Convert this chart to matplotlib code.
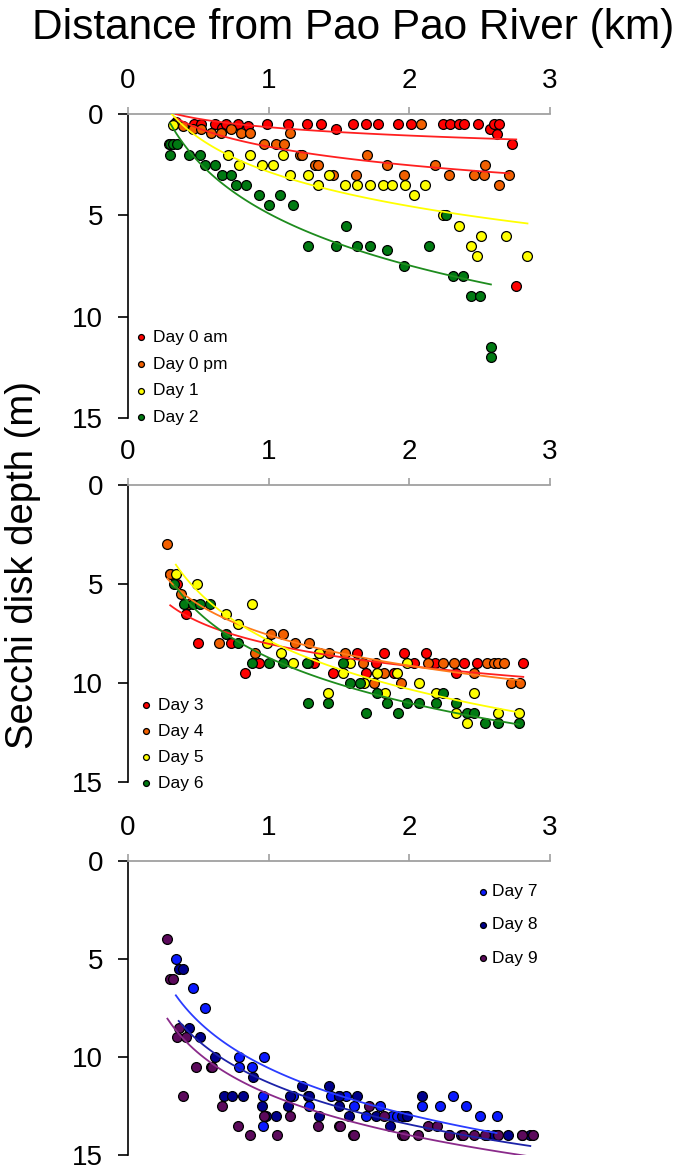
import matplotlib
matplotlib.use("Agg")
import matplotlib.pyplot as plt
import numpy as np

plt.rcParams['font.family'] = ['Liberation Sans', 'DejaVu Sans']

# distance from river (km) and secchi depth (m) for each survey day
d0am_x = [0.34, 0.47, 0.52, 0.62, 0.67, 0.70, 0.78, 0.85, 0.99, 1.14, 1.27, 1.37, 1.48, 1.60, 1.69,
          1.78, 1.92, 2.01, 2.24, 2.29, 2.35, 2.39, 2.49, 2.57, 2.60, 2.62, 2.64, 2.73, 2.76]
d0am_y = [0.4, 0.5, 0.5, 0.5, 0.7, 0.5, 0.5, 0.6, 0.5, 0.5, 0.5, 0.5, 0.75, 0.5, 0.5,
          0.5, 0.5, 0.5, 0.5, 0.5, 0.5, 0.5, 0.5, 0.75, 0.5, 1.0, 0.5, 1.5, 8.5]

d0pm_x = [0.33, 0.39, 0.46, 0.52, 0.59, 0.66, 0.73, 0.80, 0.87, 0.97, 1.05, 1.11, 1.15, 1.22, 1.24,
          1.33, 1.35, 1.46, 1.62, 1.70, 1.84, 1.96, 2.08, 2.18, 2.28, 2.46, 2.53, 2.54, 2.64, 2.71]
d0pm_y = [0.5, 0.6, 0.75, 0.75, 0.95, 0.95, 0.75, 0.95, 0.95, 1.5, 1.5, 1.5, 0.95, 2.0, 2.0,
          2.5, 2.5, 3.0, 3.0, 2.0, 2.5, 3.0, 0.5, 2.5, 3.0, 3.0, 3.0, 2.5, 3.5, 3.0]

d1_x = [0.29, 0.32, 0.71, 0.79, 0.87, 0.95, 1.03, 1.10, 1.15, 1.28, 1.35, 1.43, 1.54, 1.63,
        1.72, 1.81, 1.88, 1.97, 2.03, 2.11, 2.24, 2.35, 2.44, 2.48, 2.51, 2.69, 2.84]
d1_y = [1.5, 0.55, 2.0, 2.5, 2.0, 2.5, 2.5, 2.0, 3.0, 3.0, 3.5, 3.0, 3.5, 3.5,
        3.5, 3.5, 3.5, 3.5, 4.0, 3.5, 5.0, 5.5, 6.5, 7.0, 6.0, 6.0, 7.0]

d2_x = [0.30, 0.32, 0.35, 0.30, 0.43, 0.51, 0.55, 0.62, 0.67, 0.73, 0.77, 0.84, 0.93, 1.00, 1.08, 1.17,
        1.28, 1.48, 1.55, 1.63, 1.72, 1.84, 1.96, 2.14, 2.26, 2.31, 2.38, 2.44, 2.50, 2.58, 2.58]
d2_y = [1.5, 1.5, 1.5, 2.0, 2.0, 2.0, 2.5, 2.5, 3.0, 3.0, 3.5, 3.5, 4.0, 4.5, 4.0, 4.5,
        6.5, 6.5, 5.5, 6.5, 6.5, 6.7, 7.5, 6.5, 5.0, 8.0, 8.0, 9.0, 9.0, 11.5, 12.0]

d3_x = [0.30, 0.35, 0.41, 0.50, 0.73, 0.83, 0.93, 1.32, 1.46, 1.63, 1.69, 1.76, 1.82, 1.89, 1.96,
        2.03, 2.12, 2.18, 2.33, 2.39, 2.48, 2.81]
d3_y = [4.5, 5.0, 6.5, 8.0, 8.0, 9.5, 9.0, 9.0, 9.5, 8.5, 9.5, 9.0, 8.5, 9.5, 8.5,
        9.0, 8.5, 9.0, 9.5, 9.0, 9.0, 9.0]

d4_x = [0.28, 0.30, 0.375, 0.43, 0.65, 0.90, 1.02, 1.10, 1.19, 1.29, 1.36, 1.43, 1.54, 1.67,
        1.75, 1.82, 1.94, 2.13, 2.24, 2.32, 2.46, 2.55, 2.60, 2.63, 2.67, 2.72, 2.79]
d4_y = [3.0, 4.5, 5.5, 6.0, 8.0, 8.5, 7.5, 7.5, 8.0, 8.0, 8.5, 8.5, 8.5, 9.0,
        10.0, 9.5, 10.0, 9.0, 9.0, 9.0, 9.5, 9.0, 9.0, 9.0, 9.0, 10.0, 10.0]

d5_x = [0.34, 0.49, 0.70, 0.78, 0.88, 0.99, 1.09, 1.17, 1.28, 1.36, 1.42, 1.53, 1.58, 1.68,
        1.77, 1.83, 1.91, 1.98, 2.07, 2.19, 2.33, 2.41, 2.46, 2.63, 2.78]
d5_y = [4.5, 5.0, 6.5, 7.0, 6.0, 8.0, 8.5, 9.0, 9.0, 8.5, 10.5, 9.5, 9.0, 10.0,
        9.5, 10.5, 9.5, 9.0, 10.0, 10.5, 11.5, 12.0, 10.5, 11.5, 11.5]

d6_x = [0.33, 0.40, 0.46, 0.51, 0.58, 0.70, 0.78, 0.88, 1.00, 1.10, 1.27, 1.28, 1.42, 1.53, 1.58,
        1.65, 1.69, 1.77, 1.84, 1.92, 1.98, 2.07, 2.19, 2.24, 2.33, 2.41, 2.46, 2.54, 2.63, 2.78]
d6_y = [5.0, 6.0, 6.0, 6.0, 6.0, 7.5, 8.0, 9.0, 9.0, 9.0, 9.0, 11.0, 11.0, 9.0, 10.0,
        10.0, 11.5, 10.5, 11.0, 11.5, 11.0, 11.0, 11.0, 10.5, 11.0, 11.5, 11.5, 12.0, 12.0, 12.0]

d7_x = [0.34, 0.46, 0.55, 0.79, 0.79, 0.88, 0.97, 0.96, 0.96, 1.17, 1.28, 1.29, 1.44, 1.50,
        1.55, 1.61, 1.69, 1.79, 1.88, 1.91, 1.97, 2.09, 2.22, 2.31, 2.40, 2.50, 2.62, 2.62]
d7_y = [5.0, 6.5, 7.5, 10.0, 10.5, 10.5, 10.0, 12.0, 13.5, 12.0, 12.0, 12.5, 12.0, 12.0,
        12.0, 12.5, 13.0, 12.5, 13.0, 13.0, 13.0, 12.5, 12.5, 12.0, 12.5, 13.0, 13.0, 14.0]

d8_x = [0.36, 0.39, 0.43, 0.51, 0.59, 0.62, 0.68, 0.74, 0.82, 0.89, 0.95, 0.98, 1.05, 1.14, 1.15,
        1.24, 1.29, 1.36, 1.43, 1.50, 1.50, 1.57, 1.63, 1.76, 1.86, 1.95, 1.98, 2.09, 2.28, 2.37,
        2.55, 2.60, 2.70, 2.80, 2.86]
d8_y = [5.5, 5.5, 8.5, 9.0, 10.5, 10.0, 12.0, 12.0, 12.0, 11.0, 12.5, 13.0, 13.0, 12.5, 12.0,
        11.5, 12.0, 13.0, 11.5, 12.0, 12.5, 13.0, 12.0, 13.0, 13.5, 13.0, 13.0, 12.0, 14.0, 14.0,
        14.0, 14.0, 14.0, 14.0, 14.0]

d9_x = [0.28, 0.30, 0.32, 0.36, 0.35, 0.41, 0.48, 0.39, 0.60, 0.67, 0.78, 0.87, 0.97, 1.06, 1.15,
        1.35, 1.50, 1.51, 1.60, 1.61, 1.71, 1.82, 1.95, 1.96, 2.06, 2.13, 2.20, 2.28, 2.38, 2.46,
        2.54, 2.63, 2.80, 2.88]
d9_y = [4.0, 6.0, 6.0, 8.5, 9.0, 9.0, 10.5, 12.0, 10.5, 12.5, 13.5, 14.0, 13.0, 14.0, 13.0,
        13.5, 13.5, 13.5, 14.0, 14.0, 12.5, 13.0, 14.0, 14.0, 14.0, 13.5, 13.5, 14.0, 14.0, 14.0,
        14.0, 14.0, 14.0, 14.0]

# (label, x, y, marker colour, trendline colour)
panel1 = [("Day 0 am", d0am_x, d0am_y, "#ff0000", "#ff2020"),
          ("Day 0 pm", d0pm_x, d0pm_y, "#f26000", "#ff2020"),
          ("Day 1", d1_x, d1_y, "#ffff00", "#ffff00"),
          ("Day 2", d2_x, d2_y, "#007a12", "#1e8c1e")]
panel2 = [("Day 3", d3_x, d3_y, "#ff0000", "#ff2020"),
          ("Day 4", d4_x, d4_y, "#f26000", "#ff7a1a"),
          ("Day 5", d5_x, d5_y, "#ffff00", "#ffff00"),
          ("Day 6", d6_x, d6_y, "#007a12", "#1e8c1e")]
panel3 = [("Day 7", d7_x, d7_y, "#0a1aff", "#2a3cff"),
          ("Day 8", d8_x, d8_y, "#00008c", "#1c22a8"),
          ("Day 9", d9_x, d9_y, "#5c0a5c", "#8a2a8a")]

xticks = [0, 1, 2, 3]
yticks = [0, 5, 10, 15]


def draw_panel(ax, series):
    for name, x, y, mc, lc in series:
        ax.scatter(x, y, s=50, color=mc, edgecolors="black", linewidths=0.9,
                   label=name, zorder=3)
    # excel style logarithmic trendlines fitted to each day
    for name, x, y, mc, lc in series:
        x = np.array(x)
        y = np.array(y)
        b, a = np.polyfit(np.log(x), y, 1)
        xs = np.linspace(x.min(), x.max(), 100)
        ax.plot(xs, a + b * np.log(xs), color=lc, lw=1.3, zorder=4)

    ax.set_xlim(0, 3)
    ax.set_ylim(15, 0)
    ax.set_xticks(xticks)
    ax.set_yticks(yticks)
    ax.xaxis.tick_top()
    ax.spines["right"].set_visible(False)
    ax.spines["bottom"].set_visible(False)
    ax.spines["top"].set_color("#a0a0a0")
    ax.spines["top"].set_linewidth(1.3)
    ax.spines["left"].set_linewidth(1.2)
    ax.tick_params(axis="x", direction="out", length=5, width=1.2, color="#a0a0a0",
                   labelsize=20, pad=9.5)
    ax.tick_params(axis="y", direction="out", length=7, width=1.2, labelsize=20, pad=11)
    ax.patch.set_alpha(0)


fig = plt.figure(figsize=(6.85, 11.7), dpi=100)
ax1 = fig.add_axes([0.1869, 0.6427, 0.616, 0.2598])
ax2 = fig.add_axes([0.1869, 0.3316, 0.616, 0.2538])
ax3 = fig.add_axes([0.1869, 0.0128, 0.616, 0.2513])

draw_panel(ax1, panel1)
draw_panel(ax2, panel2)
draw_panel(ax3, panel3)

ax1.legend(loc="upper left", bbox_to_anchor=(0.005, 0.29), frameon=False, fontsize=12.5,
           markerscale=0.6, handletextpad=0.1, labelspacing=0.66, borderpad=0,
           borderaxespad=0, handlelength=1.2)
ax2.legend(loc="upper left", bbox_to_anchor=(0.017, 0.285), frameon=False, fontsize=12.5,
           markerscale=0.6, handletextpad=0.1, labelspacing=0.63, borderpad=0,
           borderaxespad=0, handlelength=1.2)
ax3.legend(loc="upper left", bbox_to_anchor=(0.82, 0.922), frameon=False, fontsize=12.5,
           markerscale=0.6, handletextpad=0.05, labelspacing=1.05, borderpad=0,
           borderaxespad=0, handlelength=1.0)

fig.text(0.515, 1 - 39 / 1170, "Distance from Pao Pao River (km)", ha="center",
         va="baseline", fontsize=30.5)
fig.text(0.033, 1 - 565 / 1170, "Secchi disk depth (m)", ha="center", va="center",
         rotation=90, fontsize=27.5)

fig.savefig("out.png", dpi=100)
